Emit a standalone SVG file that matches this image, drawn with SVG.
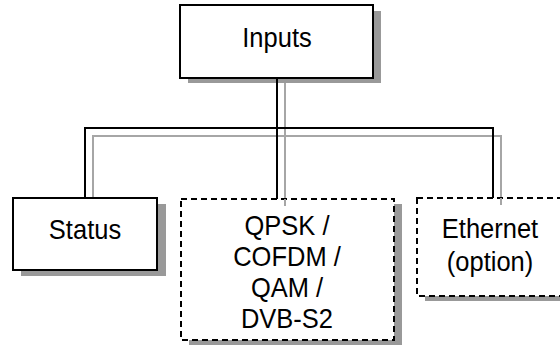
<svg xmlns="http://www.w3.org/2000/svg" width="560" height="347" viewBox="0 0 560 347">
<style>
.shadow{fill:#999999;stroke:none}
.box{fill:#ffffff;stroke:#000000;stroke-width:2}
.dashed{stroke-dasharray:6 4}
.lbl{font-family:"Liberation Sans",Arial,sans-serif;font-size:25.5px;fill:#000000;text-anchor:middle}
.conn{fill:none;stroke:#000000;stroke-width:2}
.connShadow{fill:none;stroke:#a6a6a6;stroke-width:2}
</style>
<rect width="560" height="347" fill="#ffffff"/>
<g id="connector-shadows">
<polyline class="connShadow" points="93,198 93,136 501,136 501,205"/>
<line class="connShadow" x1="285" y1="83" x2="285" y2="206"/>
</g>
<g id="node-inputs">
<rect class="shadow" x="188" y="11" width="193" height="72"/>
<rect class="box" x="180" y="5" width="193" height="73"/>
<text class="lbl" transform="translate(277,47) scale(1,1.1)">Inputs</text>
</g>
<g id="node-status">
<rect class="shadow" x="21" y="204" width="145" height="72"/>
<rect class="box" x="13" y="198" width="144" height="72"/>
<text class="lbl" transform="translate(85,239) scale(1,1.1)">Status</text>
</g>
<g id="node-qpsk">
<rect class="shadow" x="189" y="204" width="213" height="141"/>
<rect class="box dashed" x="181" y="199" width="213" height="141"/>
<text class="lbl" transform="translate(287,235) scale(1,1.1)">QPSK /</text>
<text class="lbl" transform="translate(287,266) scale(1,1.1)">COFDM /</text>
<text class="lbl" transform="translate(287,297) scale(1,1.1)">QAM /</text>
<text class="lbl" transform="translate(287,328) scale(1,1.1)">DVB-S2</text>
</g>
<g id="node-ethernet">
<rect class="shadow" x="425" y="203" width="150" height="98"/>
<rect class="box dashed" x="417" y="198" width="150" height="98"/>
<text class="lbl" transform="translate(490,238) scale(1,1.1)">Ethernet</text>
<text class="lbl" transform="translate(490,271) scale(1,1.1)">(option)</text>
</g>
<g id="connectors">
<line class="conn" x1="277" y1="78" x2="277" y2="199"/>
<polyline class="conn" points="85,198 85,128 493,128 493,198"/>
<line class="connShadow" x1="501" y1="198" x2="501" y2="205"/>
<line class="connShadow" x1="285" y1="199" x2="285" y2="206"/>
</g>
</svg>
